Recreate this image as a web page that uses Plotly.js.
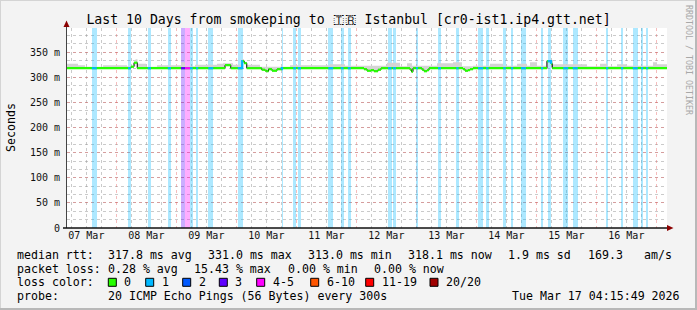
<!DOCTYPE html>
<html><head><meta charset="utf-8">
<script src="https://cdn.plot.ly/plotly-3.0.1.min.js"></script>
<style>html,body{margin:0;padding:0;background:#f3f3f3;}#chart{width:697px;height:310px;}</style>
</head><body><div id="chart"></div>
<script>
// ---------------- DATA ----------------
const windowStart = '2026-03-07 04:15:49';
const windowHours = 240;
const yMax = 398;
const yTickVals = [0, 50, 100, 150, 200, 250, 300, 350];
const yTickText = ['0', '50 m', '100 m', '150 m', '200 m', '250 m', '300 m', '350 m'];

// median rtt (ms), step changes: hour offset from window start -> value
const medianH = [0, 25.6, 26.8, 28.1, 63.2, 65.5, 70.1, 70.9, 71.9, 77.9, 79.2, 79.9, 80.6, 82.0, 84.0, 85.9,
  118.8, 120.0, 121.6, 122.8, 124.4, 125.6, 137.2, 137.8, 138.4, 142.0, 142.8, 144.0, 144.8,
  158.4, 159.2, 160.4, 161.2, 162.4, 192.0, 193.6, 194.1];
const medianV = [318, 321, 329, 318, 324, 318, 332, 328, 318, 315, 313, 312, 316, 313, 316, 318,
  316, 313, 314, 312, 315, 318, 315, 311, 318, 315, 312, 314, 318,
  316, 313, 314, 316, 318, 332, 327, 318];

// smoke (upper edge of ping spread), step segments
const smokeH = [0, 4.4, 7.2, 14.4, 24, 27.4, 28.2, 31.6, 36, 45.6, 47.2, 51.2, 60, 62.4, 66.4, 70, 70.8, 72, 77.2, 89.2,
  105.2, 111.2, 128, 133.2, 136, 138, 148, 154.4, 158, 162.4, 169.2, 174.4, 180, 184, 185.2, 188, 191.6, 194.4,
  208, 213.2, 216, 220, 224, 234.4, 236];
const smokeTop = [327, 324, 321, 324, 322, 336, 327, 321, 324, 330, 322, 325, 327, 328, 325, 336, 330, 325, 321, 324,
  326, 323, 329, 322, 328, 323, 328, 330, 322, 323, 327, 323, 327, 323, 330, 323, 334, 326,
  322, 327, 322, 326, 323, 330, 326];

// packet loss events: start (hours from window start), duration (hours), lost packets of 20
const lossStartH = [9.9, 24.4, 32.3, 40.3, 45.6, 47.2, 49.2, 51.6, 56.5, 68.3, 85.8, 90.5, 92.3, 104.5, 109.5, 112.3,
  128.4, 130.4, 139.6, 148.4, 155.7, 164.4, 167.6, 174.5, 177.6, 181.6, 189.6, 192.3, 198.5, 202.3,
  215.6, 221.6, 226.3, 229.6, 231.6];
const lossDurH = [2.0, 1.1, 1.3, 1.3, 1.6, 2.0, 1.1, 0.9, 2.0, 2.0, 0.7, 1.1, 1.3, 2.0, 1.1, 1.2,
  1.4, 1.2, 0.8, 1.2, 0.9, 2.1, 1.0, 1.0, 0.9, 2.0, 0.9, 1.3, 2.0, 2.0,
  0.9, 0.9, 2.0, 0.9, 0.9];
const lossCount = [1, 1, 1, 1, 3, 5, 1, 1, 1, 1, 1, 1, 1, 1, 1, 1,
  1, 1, 1, 1, 1, 1, 1, 1, 1, 1, 1, 1, 1, 1,
  1, 1, 1, 1, 1];

// loss colour legend
const lossLabels = ['0', '1', '2', '3', '4-5', '6-10', '11-19', '20/20'];
const lossColors = ['#26ff00', '#00b8ff', '#0059ff', '#5e00ff', '#ff00ff', '#ff5500', '#ff0000', '#a00000'];
const lossUpper = [0, 1, 2, 3, 5, 10, 19, 20];

// legend texts
const rowRtt = ['median rtt:', '317.8 ms avg', '331.0 ms max', '313.0 ms min', '318.1 ms now', '1.9 ms sd', '169.3', 'am/s'];
const rowLoss = ['packet loss:', '0.28 % avg', '15.43 % max', '0.00 % min', '0.00 % now'];
const lossColorTitle = 'loss color:';
const probeRow = ['probe:', '20 ICMP Echo Pings (56 Bytes) every 300s'];
const stampText = 'Tue Mar 17 04:15:49 2026';
const titleText = 'Last 10 Days from smokeping to \u{1F1F9}\u200C\u{1F1F7} Istanbul [cr0-ist1.ip4.gtt.net]';

// ---------------- HELPERS ----------------
const startMs = Date.parse(windowStart.replace(' ', 'T') + 'Z');
function tAt(h) { return new Date(startMs + h * 3600000).toISOString().replace('T', ' ').slice(0, 19); }
function medAt(h) { let v = medianV[0]; for (let i = 0; i < medianH.length; i++) { if (medianH[i] <= h) v = medianV[i]; } return v; }
function catOf(n) { for (let i = 0; i < lossUpper.length; i++) { if (n <= lossUpper[i]) return i; } return lossUpper.length - 1; }
function light(hex, a) { const r = parseInt(hex.substr(1, 2), 16), g = parseInt(hex.substr(3, 2), 16), b = parseInt(hex.substr(5, 2), 16); return 'rgba(' + r + ',' + g + ',' + b + ',' + a + ')'; }

// layout geometry (pixels)
const W = 697, H = 310, L = 67, R = 30, T = 28, B = 82;
const PW = W - L - R, PH = H - T - B;
const px = x => (x - L) / PW;
const py = y => (H - B - y) / PH;
const FONT = 'DejaVu Sans Mono';

const traces = [];
// loss bands
traces.push({
  type: 'bar', x: lossStartH.map((s, i) => tAt(s + lossDurH[i] / 2)), width: lossDurH.map(d => d * 3600000),
  y: lossStartH.map(() => yMax), base: 0,
  marker: { color: lossCount.map(n => light(lossColors[catOf(n)], 0.32)), line: { width: 0 } },
  hoverinfo: 'skip', showlegend: false
});
// smoke
const medX = medianH.map(tAt).concat([tAt(windowHours)]);
const medY = medianV.concat([medianV[medianV.length - 1]]);
traces.push({ type: 'scatter', mode: 'lines', x: medX, y: medY, line: { width: 0, shape: 'hv' }, hoverinfo: 'skip' });
traces.push({ type: 'scatter', mode: 'lines', x: smokeH.map(tAt).concat([tAt(windowHours)]), y: smokeTop.concat([smokeTop[smokeTop.length - 1]]),
  line: { width: 0, shape: 'hv' }, fill: 'tonexty', fillcolor: '#d4d4d4', hoverinfo: 'skip' });
// black median outline
traces.push({ type: 'scatter', mode: 'lines', x: medX, y: medY, line: { width: 1, color: '#000', shape: 'hv' }, hoverinfo: 'skip' });
// green horizontal segments
const gx = [], gy = [];
for (let i = 0; i < medianH.length; i++) {
  const h1 = i + 1 < medianH.length ? medianH[i + 1] : windowHours;
  gx.push(tAt(medianH[i]), tAt(h1), null); gy.push(medianV[i], medianV[i], null);
}
traces.push({ type: 'scatter', mode: 'lines', x: gx, y: gy, line: { width: 2.2, color: lossColors[0] }, connectgaps: false, hoverinfo: 'skip' });
// loss coloured median segments
const segs = {};
lossStartH.forEach((s, i) => {
  const c = catOf(lossCount[i]); if (!segs[c]) segs[c] = { x: [], y: [] };
  const e = s + lossDurH[i];
  segs[c].x.push(tAt(s)); segs[c].y.push(medAt(s));
  medianH.forEach((bh, j) => { if (bh > s && bh < e) { segs[c].x.push(tAt(bh)); segs[c].y.push(medianV[j]); } });
  segs[c].x.push(tAt(e)); segs[c].y.push(medAt(e - 0.001));
  segs[c].x.push(null); segs[c].y.push(null);
});
Object.keys(segs).forEach(c => {
  traces.push({ type: 'scatter', mode: 'lines', x: segs[c].x, y: segs[c].y, line: { width: 2.2, color: lossColors[c], shape: 'hv' }, connectgaps: false, hoverinfo: 'skip' });
});

// ---------------- ANNOTATIONS / SHAPES ----------------
const ann = [];
function txt(s, x, y, opts) {
  ann.push(Object.assign({ text: s, xref: 'paper', yref: 'paper', x: px(x), y: py(y), xanchor: 'left', yanchor: 'middle',
    showarrow: false, borderpad: 0, font: { family: FONT, size: 11.6, color: '#000' } }, opts || {}));
}
const rttX = [16, 107.3, 207.3, 307.3, 406.7, 506.7, 586.7, 642.7];
rowRtt.forEach((s, i) => txt(s, rttX[i], 255));
const lossX = [16, 107.3, 193.4, 286.5, 372.6];
rowLoss.forEach((s, i) => txt(s, lossX[i], 268.5));
txt(lossColorTitle, 16, 282);
const boxX = [108.3, 145.7, 182.7, 219.3, 256.7, 310.7, 365.7, 430];
const shapes = [];
lossLabels.forEach((s, i) => {
  shapes.push({ type: 'rect', xref: 'paper', yref: 'paper', x0: px(boxX[i]), x1: px(boxX[i] + 8), y0: py(286.3), y1: py(278.3),
    fillcolor: lossColors[i], line: { color: '#000', width: 1 } });
  txt(s, boxX[i] + 15, 282);
});
txt(probeRow[0], 16, 295.5);
txt(probeRow[1], 107.3, 295.5);
txt(stampText, 681, 295.5, { xanchor: 'right' });
txt('Seconds', 11, 128, { xanchor: 'center', textangle: -90, font: { family: FONT, size: 11.6, color: '#000' } });
txt('RRDTOOL / TOBI OETIKER', 689, 60, { xanchor: 'center', textangle: 90, font: { family: FONT, size: 8.3, color: '#a8a8a8' } });

// frame
shapes.push({ type: 'line', xref: 'paper', yref: 'paper', x0: px(0), x1: px(W), y0: py(0.5), y1: py(0.5), line: { color: '#d4d4d4', width: 1 } });
shapes.push({ type: 'line', xref: 'paper', yref: 'paper', x0: px(0.5), x1: px(0.5), y0: py(0), y1: py(H), line: { color: '#d4d4d4', width: 1 } });
shapes.push({ type: 'line', xref: 'paper', yref: 'paper', x0: px(0), x1: px(W), y0: py(H - 1), y1: py(H - 1), line: { color: '#b8b8b8', width: 2 } });
shapes.push({ type: 'line', xref: 'paper', yref: 'paper', x0: px(W - 1), x1: px(W - 1), y0: py(0), y1: py(H), line: { color: '#b8b8b8', width: 2 } });
// axes lines and arrows
shapes.push({ type: 'line', xref: 'paper', yref: 'paper', x0: px(66.5), x1: px(66.5), y0: py(228), y1: py(23), line: { color: '#444', width: 1 } });
shapes.push({ type: 'line', xref: 'paper', yref: 'paper', x0: px(63), x1: px(669), y0: py(228), y1: py(228), line: { color: '#111', width: 1.5 } });
shapes.push({ type: 'path', xref: 'paper', yref: 'paper', path: 'M' + px(63.5) + ',' + py(27) + ' L' + px(69.5) + ',' + py(27) + ' L' + px(66.5) + ',' + py(20.5) + ' Z',
  fillcolor: '#8b0000', line: { width: 0 } });
shapes.push({ type: 'path', xref: 'paper', yref: 'paper', path: 'M' + px(667) + ',' + py(225) + ' L' + px(667) + ',' + py(231) + ' L' + px(673.5) + ',' + py(228) + ' Z',
  fillcolor: '#8b0000', line: { width: 0 } });

const layout = {
  width: W, height: H, margin: { l: L, r: R, t: T, b: B, pad: 0 },
  paper_bgcolor: '#f3f3f3', plot_bgcolor: '#ffffff', showlegend: false,
  title: { text: titleText, font: { family: FONT, size: 13.2, color: '#000' }, x: 0.5, xref: 'container', xanchor: 'center',
    y: 1 - 19.6 / H, yref: 'container', yanchor: 'middle' },
  xaxis: {
    type: 'date', range: [tAt(0), tAt(windowHours)], tickmode: 'linear', tick0: '2026-03-08 00:00:00', dtick: 86400000,
    tickformat: '%d %b', ticklabelmode: 'period', showgrid: true, gridcolor: 'rgba(230,90,90,0.4)', griddash: 'dot', gridwidth: 1,
    minor: { dtick: 6 * 3600000, showgrid: true, gridcolor: 'rgba(150,150,150,0.5)', griddash: 'dot', gridwidth: 1 },
    ticks: '', showline: false, zeroline: false, fixedrange: true,
    tickfont: { family: FONT, size: 10, color: '#111' }
  },
  yaxis: {
    range: [0, yMax], tickmode: 'array', tickvals: yTickVals, ticktext: yTickText, showgrid: true,
    gridcolor: 'rgba(230,90,90,0.4)', griddash: 'dot', gridwidth: 1,
    minor: { tickmode: 'linear', tick0: 0, dtick: 50 / 3, showgrid: true, gridcolor: 'rgba(150,150,150,0.5)', griddash: 'dot', gridwidth: 1 },
    ticks: 'outside', ticklen: 4, tickcolor: 'rgba(0,0,0,0)', showline: false, zeroline: false, fixedrange: true,
    tickfont: { family: FONT, size: 10, color: '#111' }
  },
  bargap: 0, annotations: ann, shapes: shapes
};
Plotly.newPlot('chart', traces, layout, { staticPlot: true, displayModeBar: false });
</script></body></html>
